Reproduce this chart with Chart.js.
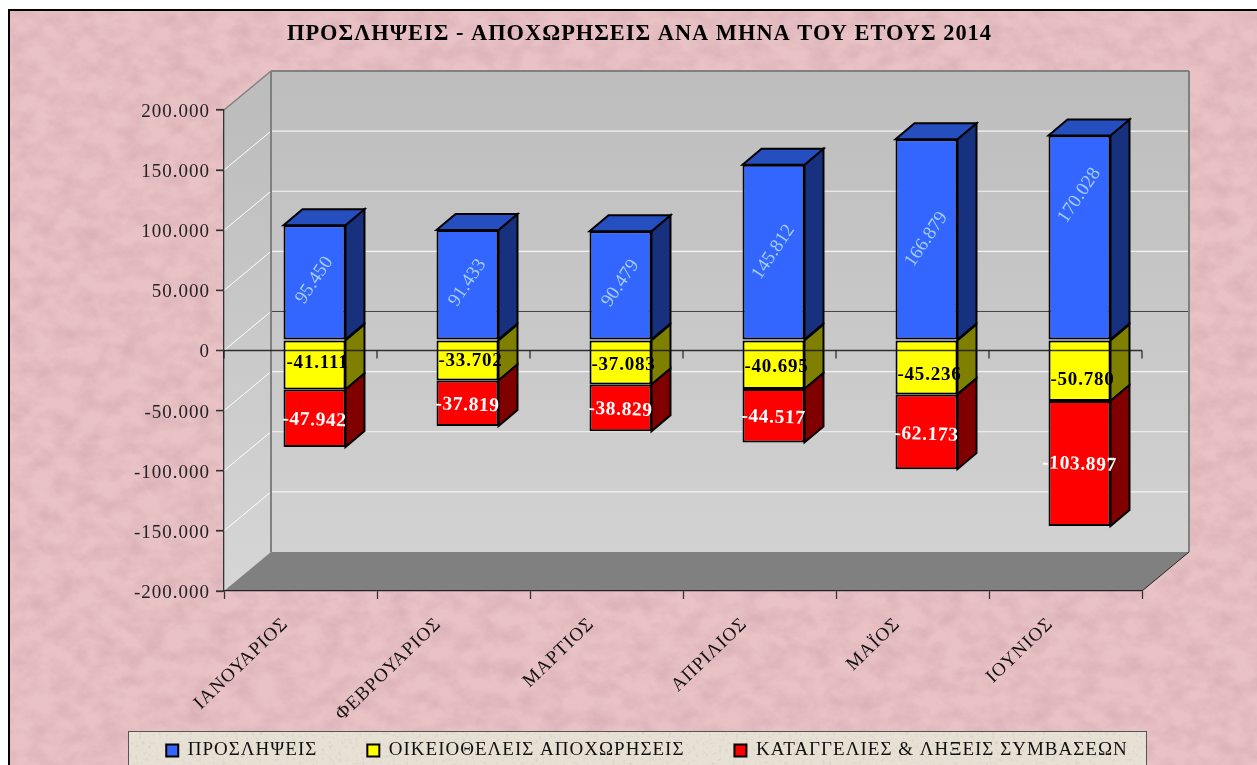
<!DOCTYPE html>
<html lang="el">
<head>
<meta charset="utf-8">
<title>ΠΡΟΣΛΗΨΕΙΣ - ΑΠΟΧΩΡΗΣΕΙΣ</title>
<script src="https://cdn.jsdelivr.net/npm/chart.js@4"></script>
<style>
html,body{margin:0;padding:0;background:#fff;width:1257px;height:765px;overflow:hidden}
#paper{position:absolute;left:8px;top:9px;right:-4px;bottom:-4px;border:2px solid #000;box-sizing:border-box;
background-color:#e9c2c6;
background-image:url("data:image/svg+xml;utf8,<svg xmlns='http://www.w3.org/2000/svg' width='1257' height='765'><filter id='n' x='0' y='0' width='100%' height='100%'><feTurbulence type='fractalNoise' baseFrequency='0.045 0.06' numOctaves='5' seed='7'/><feColorMatrix values='0 0 0 0 0.6 0 0 0 0 0.36 0 0 0 0 0.39 0.95 0 0 0 -0.32'/></filter><rect width='100%' height='100%' filter='url(%23n)'/></svg>");}
#legendPanel{position:absolute;left:128px;top:731px;width:1019px;height:60px;box-sizing:border-box;border:1px solid #555;
background-color:#e7e0d5;
background-image:url("data:image/svg+xml;utf8,<svg xmlns='http://www.w3.org/2000/svg' width='1019' height='60'><filter id='s' x='0' y='0' width='100%' height='100%'><feTurbulence type='fractalNoise' baseFrequency='0.3' numOctaves='2' seed='4'/><feColorMatrix values='0 0 0 0 0.55 0 0 0 0 0.52 0 0 0 0 0.46 1.6 0 0 0 -0.9'/></filter><rect width='100%' height='100%' filter='url(%23s)'/></svg>");}
canvas{position:absolute;left:0;top:0}
</style>
</head>
<body>
<div id="paper"></div>
<div id="legendPanel"></div>
<canvas id="c" width="1257" height="765"></canvas>
<script>
const chartTitle = 'ΠΡΟΣΛΗΨΕΙΣ - ΑΠΟΧΩΡΗΣΕΙΣ ΑΝΑ ΜΗΝΑ ΤΟΥ ΕΤΟΥΣ 2014';
const categories = ['ΙΑΝΟΥΑΡΙΟΣ','ΦΕΒΡΟΥΑΡΙΟΣ','ΜΑΡΤΙΟΣ','ΑΠΡΙΛΙΟΣ','ΜΑΪΟΣ','ΙΟΥΝΙΟΣ'];
const seriesNames = ['ΠΡΟΣΛΗΨΕΙΣ','ΟΙΚΕΙΟΘΕΛΕΙΣ ΑΠΟΧΩΡΗΣΕΙΣ','ΚΑΤΑΓΓΕΛΙΕΣ & ΛΗΞΕΙΣ ΣΥΜΒΑΣΕΩΝ'];
const hires = [95450, 91433, 90479, 145812, 166879, 170028];
const voluntaryExits = [-41111, -33702, -37083, -40695, -45236, -50780];
const terminations = [-47942, -37819, -38829, -44517, -62173, -103897];

// Label nudges (pixels) away from the centre of each segment
const labelDy = [
  [-2, -2, -2, 0, 0, -42],
  [-2, 1, 3, 2, 8, 9],
  [2, 2, 2, 2, 3, 1]
];

const FONT = '"Liberation Serif", "DejaVu Serif", serif';
const WALL = {dx: 47, dy: 39};      // depth of the 3D box
const BAR = {dx: 14, dy: 10.5};     // bars stand part-way into the box
const SIDE = {dx: 19, dy: 16};      // depth of each bar
const faces = [
  {front:'#3366ff', side:'#17317f', top:'#254fbf'},
  {front:'#ffff00', side:'#808000', top:'#bfbf00'},
  {front:'#ff0000', side:'#800000', top:'#bf0000'}
];
const labelStyle = [
  {color:'#a6cdfb', font:'19px '+FONT, rot:-56, spacing:'0px'},
  {color:'#000', font:'bold 19px '+FONT, rot:0, spacing:'0.8px'},
  {color:'#fff', font:'bold 19.5px '+FONT, rot:2, spacing:'0.6px'}
];
const fmt = v => String(v).replace(/\B(?=(\d{3})+(?!\d))/g, '.');

function poly(ctx, pts, fill, stroke, lw){
  ctx.beginPath();
  pts.forEach((p,i)=> i ? ctx.lineTo(p[0],p[1]) : ctx.moveTo(p[0],p[1]));
  ctx.closePath();
  if(fill){ctx.fillStyle=fill;ctx.fill();}
  if(stroke){ctx.strokeStyle=stroke;ctx.lineWidth=lw||1;ctx.stroke();}
}
function line(ctx,x1,y1,x2,y2,color,lw){
  ctx.beginPath();ctx.moveTo(x1,y1);ctx.lineTo(x2,y2);
  ctx.strokeStyle=color;ctx.lineWidth=lw||1;ctx.stroke();
}

const box3d = {
  id:'box3d',
  beforeUpdate(chart){ chart.ctx.letterSpacing='1px'; },
  beforeLayout(chart){
    // The legend is parked over the panel, so it takes no room from the axes
    const lg = chart.legend;
    if(!lg._parked){
      const fit = lg.fit;
      lg.fit = function(){ fit.call(this); this.height = 0; };
      lg._parked = true;
    }
  },
  afterLayout(chart){
    chart.titleBlock.left += 68.5; chart.titleBlock.right += 68.5;
    const lg = chart.legend, pad = lg.options.labels.padding;
    lg.top = 741 - pad; lg.bottom = 765;
    lg.left += 76; lg.right += 76;
  },
  beforeDraw(chart){
    const {ctx, chartArea:a, scales:{y}} = chart;
    ctx.letterSpacing='1px';
    const bx0=a.left+WALL.dx, bx1=a.right+WALL.dx, by0=a.top-WALL.dy, by1=a.bottom-WALL.dy;
    const g=ctx.createLinearGradient(0,by0,0,by1);
    g.addColorStop(0,'#bdbdbd');g.addColorStop(1,'#d2d2d2');
    poly(ctx,[[bx0,by0],[bx1,by0],[bx1,by1],[bx0,by1]],g);
    const gs=ctx.createLinearGradient(0,a.top,0,a.bottom);
    gs.addColorStop(0,'#bdbdbd');gs.addColorStop(1,'#d6d6d6');
    poly(ctx,[[a.left,a.top],[bx0,by0],[bx0,by1],[a.left,a.bottom]],gs);
    poly(ctx,[[a.left,a.bottom],[bx0,by1],[bx1,by1],[a.right,a.bottom]],'#808080');
    y.ticks.forEach(t=>{
      const py=y.getPixelForValue(t.value);
      if(t.value===y.max||t.value===y.min) return;
      line(ctx,a.left,py,bx0,py-WALL.dy,'#fff',1);
      line(ctx,bx0,py-WALL.dy,bx1,py-WALL.dy,t.value===0?'#444':'#f4f4f4',t.value===0?1:1.2);
    });
    line(ctx,a.left,a.top,bx0,by0,'#808080',1.5);
    line(ctx,bx0,by0,bx1,by0,'#808080',2);
    line(ctx,bx1,by0,bx1,by1,'#808080',2);
    line(ctx,bx0,by0,bx0,by1,'#808080',2);
    line(ctx,a.right,a.bottom,bx1,by1,'#222',1);
  },
  beforeDatasetsDraw(chart){
    chart.ctx.save();
    chart.ctx.translate(BAR.dx,-BAR.dy);
  },
  afterDatasetsDraw(chart){
    const {ctx, chartArea:a, scales:{y}} = chart;
    chart.data.datasets.forEach((ds,i)=>{
      chart.getDatasetMeta(i).data.forEach(el=>{
        const p=el.getProps(['x','y','base','width']);
        const top=Math.min(p.y,p.base), bot=Math.max(p.y,p.base);
        const l=p.x-p.width/2, r=p.x+p.width/2;
        poly(ctx,[[r,top],[r+SIDE.dx,top-SIDE.dy],[r+SIDE.dx,bot-SIDE.dy],[r,bot]],faces[i].side,'#000',2);
        if(i===0) poly(ctx,[[l,top],[l+SIDE.dx,top-SIDE.dy],[r+SIDE.dx,top-SIDE.dy],[r,top]],faces[i].top,'#000',2);
      });
    });
    ctx.restore();
    // Zero axis in front of the bars
    const z=y.getPixelForValue(0);
    line(ctx,a.left,z,a.right,z,'rgba(20,20,20,0.85)',1.3);
    for(let k=0;k<=categories.length;k++){
      const tx=a.left+(a.right-a.left)*k/categories.length;
      line(ctx,tx,z,tx,z+8,'rgba(20,20,20,0.85)',1.3);
    }
    // Left-hand tick marks of the value axis
    y.ticks.forEach(t=>{
      const py=y.getPixelForValue(t.value);
      line(ctx,a.left-8,py,a.left,py,'#333',1.3);
    });
    // Data labels
    ctx.save();
    ctx.translate(BAR.dx,-BAR.dy);
    chart.data.datasets.forEach((ds,i)=>{
      const st=labelStyle[i];
      chart.getDatasetMeta(i).data.forEach((el,j)=>{
        const p=el.getProps(['x','y','base']);
        ctx.save();
        ctx.translate(p.x+(i===1?3:0),(p.y+p.base)/2+labelDy[i][j]);
        ctx.rotate(st.rot*Math.PI/180);
        ctx.letterSpacing=st.spacing;
        ctx.font=st.font;ctx.fillStyle=st.color;
        ctx.textAlign='center';ctx.textBaseline='middle';
        ctx.fillText(fmt(ds.data[j]),0,0);
        ctx.restore();
      });
    });
    ctx.restore();
  }
};

new Chart(document.getElementById('c'),{
  type:'bar',
  data:{
    labels:categories,
    datasets:[
      {label:seriesNames[0],data:hires},
      {label:seriesNames[1],data:voluntaryExits},
      {label:seriesNames[2],data:terminations}
    ].map((d,i)=>Object.assign(d,{
      backgroundColor:faces[i].front,borderColor:'#000',borderWidth:2,
      barPercentage:0.405,categoryPercentage:1,borderSkipped:false
    }))
  },
  plugins:[box3d],
  options:{
    responsive:false,animation:false,devicePixelRatio:1,
    layout:{padding:{top:0,right:115,bottom:0,left:0}},
    plugins:{
      title:{display:true,text:chartTitle,color:'#000',
        font:{family:FONT,size:22.4,weight:'bold',lineHeight:1.2},
        padding:{top:21,bottom:62.1}},
      legend:{position:'bottom',
        labels:{color:'#111',boxWidth:12,boxHeight:12,padding:50,
          font:{family:FONT,size:19}}},
      tooltip:{enabled:false}
    },
    scales:{
      x:{stacked:true,
        offset:true,
        afterFit(s){ s.height = 174; },
        border:{color:'#222',width:1.3},
        grid:{offset:true,drawOnChartArea:false,drawTicks:true,tickLength:8,tickColor:'#333',tickWidth:1.3},
        ticks:{color:'#111',font:{family:FONT,size:19},minRotation:44,maxRotation:44,autoSkip:false,padding:14,labelOffset:-15}
      },
      y:{stacked:true,min:-200000,max:200000,
        afterFit(s){ s.width = 224; },
        border:{color:'#333',width:1.3},
        grid:{drawOnChartArea:false,drawTicks:true,tickLength:8,tickColor:'#333',tickWidth:1.3},
        ticks:{stepSize:50000,color:'#222',padding:6,labelOffset:2,font:{family:FONT,size:19},callback:v=>fmt(v)}
      }
    }
  }
});
</script>
</body>
</html>
